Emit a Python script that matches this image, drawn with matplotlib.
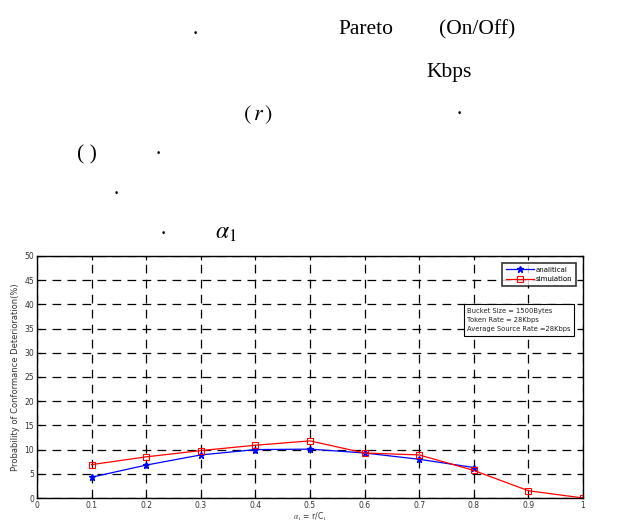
import matplotlib.pyplot as plt

plt.rcParams['mathtext.fontset'] = 'stix'

alpha = [0.1, 0.2, 0.3, 0.4, 0.5, 0.6, 0.7, 0.8, 0.9, 1.0]
analitical = [4.3, 6.8, 8.9, 10.0, 10.1, 9.3, 8.0, 6.3]
simulation = [6.9, 8.5, 9.8, 10.9, 11.8, 9.3, 8.9, 5.7, 1.5, 0.0]

xticks = [0, 0.1, 0.2, 0.3, 0.4, 0.5, 0.6, 0.7, 0.8, 0.9, 1]
xticklabels = ['0', '0.1', '0.2', '0.3', '0.4', '0.5', '0.6', '0.7', '0.8', '0.9', '1']
yticks = list(range(0, 55, 5))

fig = plt.figure(figsize=(6.26, 5.22), dpi=100)

# page text above the chart (only the latin parts survived the scan)
serif = 'Liberation Serif'
fs = 15.5
fig.text(195/626, 1 - 30/522, '.', fontsize=fs, family=serif, ha='center', va='center')
fig.text(366/626, 1 - 30/522, 'Pareto', fontsize=fs, family=serif, ha='center', va='center')
fig.text(477/626, 1 - 30/522, '(On/Off)', fontsize=fs, family=serif, ha='center', va='center')
fig.text(449/626, 1 - 72/522, 'Kbps', fontsize=fs, family=serif, ha='center', va='center')
fig.text(258/626, 1 - 115/522, r'$(\,r\,)$', fontsize=16, ha='center', va='center')
fig.text(459/626, 1 - 110/522, '.', fontsize=fs, family=serif, ha='center', va='center')
fig.text(87/626, 1 - 155/522, '( )', fontsize=fs, family=serif, ha='center', va='center')
fig.text(158/626, 1 - 150/522, '.', fontsize=fs, family=serif, ha='center', va='center')
fig.text(116/626, 1 - 190/522, '.', fontsize=fs, family=serif, ha='center', va='center')
fig.text(163/626, 1 - 230/522, '.', fontsize=fs, family=serif, ha='center', va='center')
fig.text(226/626, 1 - 232/522, r'$\alpha_1$', fontsize=17, ha='center', va='center')

ax = fig.add_axes([37/626, 1 - 498/522, 546/626, 242/522])

ax.plot(alpha[:len(analitical)], analitical, color='blue', marker='*', markersize=5,
        linewidth=0.9, label='analitical')
ax.plot(alpha, simulation, color='red', marker='s', markersize=5, markerfacecolor='none',
        markeredgewidth=0.8, linewidth=0.9, label='simulation')

ax.set_xlim(0, 1)
ax.set_ylim(0, 50)
ax.set_xticks(xticks)
ax.set_xticklabels(xticklabels)
ax.set_yticks(yticks)
ax.tick_params(direction='in', labelsize=5.5, length=3, top=True, right=True, pad=2,
               colors='black', labelcolor='#333333')
ax.grid(True, color='black', linestyle=(0, (7, 5)), linewidth=0.9)
for s in ax.spines.values():
    s.set_linewidth(1.0)

ax.set_xlabel(r'$\alpha_1$ = r/C$_1$', fontsize=5.5, labelpad=1, color='#333333')
ax.set_ylabel('Probability of Conformance Deterioration(%)', fontsize=6, labelpad=3,
              color='#333333')

leg = ax.legend(loc='upper right', fontsize=5, frameon=True, fancybox=False, edgecolor='black',
                handlelength=4.0, borderpad=0.5, labelspacing=0.5, handletextpad=0.3,
                bbox_to_anchor=(0.993, 0.985))
leg.get_frame().set_linewidth(1.2)

ax.text(0.788, 0.735, 'Bucket Size = 1500Bytes\nToken Rate = 28Kbps\nAverage Source Rate =28Kbps',
        transform=ax.transAxes, fontsize=4.9, va='center', ha='left', linespacing=1.6,
        color='#222222',
        bbox=dict(boxstyle='square,pad=0.55', facecolor='white', edgecolor='black', linewidth=0.8))

fig.savefig('out.png', dpi=100)
